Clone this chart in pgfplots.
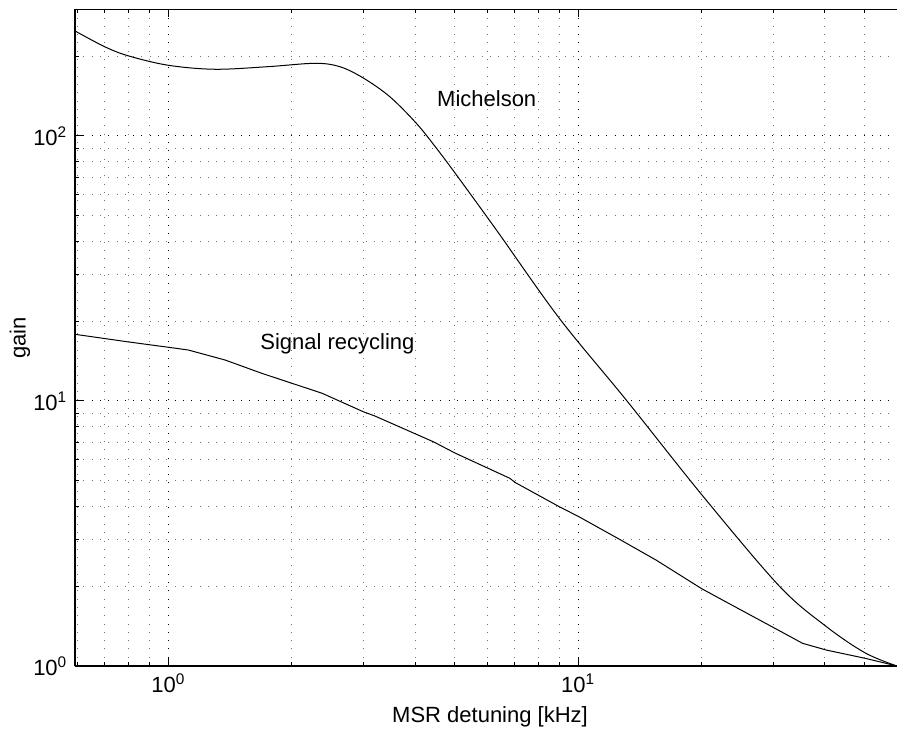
\documentclass[border=0pt,11pt]{standalone}
\usepackage{fontspec}
\setmainfont{Liberation Sans}
\usepackage{pgfplots}
\pgfplotsset{compat=1.18}

\begin{document}
\begin{tikzpicture}
\begin{axis}[
  at={(0,0)}, anchor=south west,
  scale only axis, width=411pt, height=328.25pt,
  xmode=log, ymode=log,
  xmin=0.592, xmax=60, ymin=1, ymax=300,
  axis x line*=box, axis y line*=left,
  axis line style={line width=0.7pt},
  xtick={1,10}, xticklabels={10\textsuperscript{0},10\textsuperscript{1}},
  ytick={1,10,100}, yticklabels={10\textsuperscript{0},10\textsuperscript{1},10\textsuperscript{2}},
  minor xtick={0.6,0.7,0.8,0.9,2,3,4,5,6,7,8,9,20,30,40,50},
  minor ytick={2,3,4,5,6,7,8,9,20,30,40,50,60,70,80,90,200,300},
  tick align=inside,
  major tick length=4pt, minor tick length=2pt,
  tick style={black, line width=0.5pt},
  grid=both,
  major grid style={black, line width=0.5pt, dash pattern=on 0.5pt off 3.65pt},
  minor grid style={black!55, line width=0.5pt, dash pattern=on 0.5pt off 3.65pt},
  ticklabel style={font=\fontsize{11}{13}\selectfont},
  xlabel={MSR detuning [kHz]},
  ylabel={gain},
  every axis x label/.style={at={(axis description cs:0.5049,-0.0768)}, anchor=center, font=\fontsize{11}{13}\selectfont},
  every axis y label/.style={at={(axis description cs:-0.0669,0.5)}, anchor=center, rotate=90, font=\fontsize{11}{13}\selectfont},
  clip=true,
]
\addplot[black, line width=0.5pt, smooth, tension=0.55] coordinates {
(0.592,249) (0.70,217) (0.80,200.4) (1.0,184.8) (1.30,178.5)
(1.754,182.6) (2.28,188) (2.62,182.6) (2.99,165.5) (3.47,140.7)
(4.03,111.6) (4.51,89.9) (5.05,71.2) (6.33,44.0) (9.0,20.5)
(13.1,10.09) (20.1,4.4) (31.0,2.0) (40.3,1.41) (50.2,1.12) (60,1.0)
};
\addplot[black, line width=0.5pt] coordinates {
(0.592,17.85) (0.70,17.2) (0.80,16.7) (1.0,15.95) (1.119,15.57) (1.375,14.28)
(1.69,12.72) (2.0,11.67) (2.37,10.7) (2.99,9.11) (3.19,8.78) (4.43,7.02)
(5.02,6.35) (6.81,5.11) (7.03,4.92) (9.0,3.99) (10.04,3.66) (12.6,3.01)
(15.5,2.51) (20.0,1.96) (22.5,1.775) (30.2,1.388) (35.3,1.218) (40.3,1.149)
(50.2,1.069) (60,1.0)
};
\node[anchor=west, inner sep=0pt, font=\fontsize{11}{13}\selectfont] at (axis cs:4.52,137.9) {Michelson};
\node[anchor=west, inner sep=0pt, font=\fontsize{11}{13}\selectfont] at (axis cs:1.674,16.5) {Signal recycling};
\end{axis}
\pgfresetboundingbox
\path[use as bounding box] (-37.5pt,-34pt) rectangle (411pt,333pt);
\end{tikzpicture}
\end{document}
